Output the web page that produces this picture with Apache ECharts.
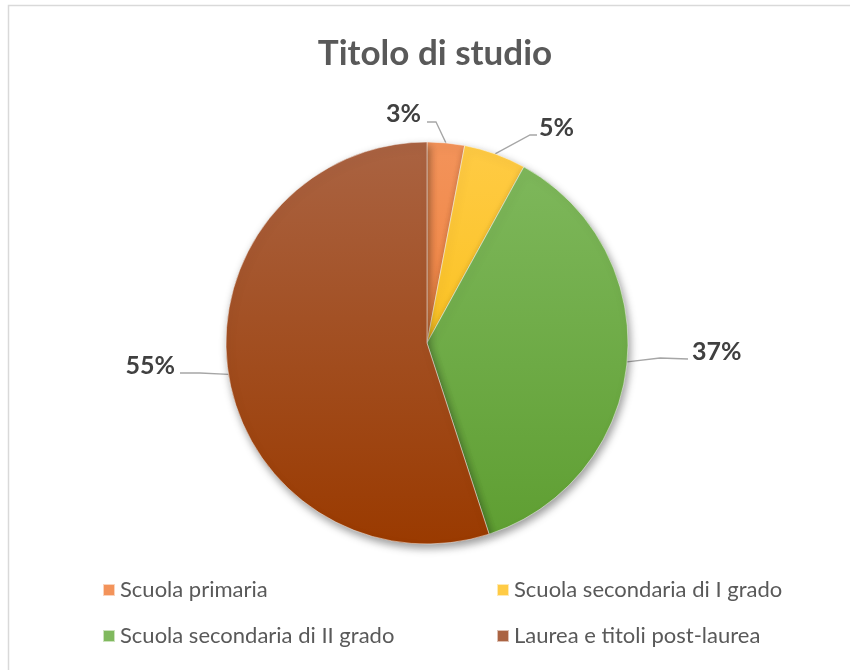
<!DOCTYPE html>
<html><head><meta charset="utf-8">
<script src="https://cdn.jsdelivr.net/npm/echarts@6/dist/echarts.min.js"></script>
<style>html,body{margin:0;padding:0;background:#fff}#c{width:850px;height:670px}</style>
</head><body><div id="c"></div>
<script>
const titleText = "Titolo di studio";
const categories = ["Scuola primaria", "Scuola secondaria di I grado", "Scuola secondaria di II grado", "Laurea e titoli post-laurea"];
const values = [3, 5, 37, 55];
const labelTexts = ["3%", "5%", "37%", "55%"];

// styling
const topColors = ["#F3935A", "#FFCB45", "#80B95E", "#AA6342"];
const botColors = ["#EC7529", "#F6BA00", "#5E9E31", "#9A3A00"];
const PIE_TOP = 142, PIE_BOT = 544;
function grad(i, global) {
  if (global) return new echarts.graphic.LinearGradient(0, PIE_TOP, 0, PIE_BOT, [{offset:0,color:topColors[i]},{offset:1,color:botColors[i]}], true);
  return new echarts.graphic.LinearGradient(0, 0, 0, 1, [{offset:0,color:topColors[i]},{offset:1,color:botColors[i]}]);
}
// label placement (layout only)
const labelLayoutCfg = [
  {x: 421, y: 114, align: 'right', pts: [[436, 122], [427, 122]]},
  {x: 539, y: 128, align: 'left', pts: [[530, 135], [537, 135]]},
  {x: 692, y: 352, align: 'left', pts: [[660, 358], [688, 359]]},
  {x: 175, y: 366, align: 'right', pts: [[200, 373], [180, 373]]}
];

const chart = echarts.init(document.getElementById('c'), null, {renderer: 'canvas'});
const legendText = {color: '#595959', fontSize: 22, fontFamily: 'Lato', lineHeight: 22};
chart.setOption({
  animation: false,
  title: {text: titleText, left: 430, textAlign: 'center', top: 31,
    textStyle: {fontFamily: 'Lato', fontWeight: 'bold', fontSize: 35, color: '#595959'}},
  graphic: [{type: 'rect', shape: {x: 8.5, y: 5.5, width: 900, height: 700},
    style: {fill: 'none', stroke: '#D9D9D9', lineWidth: 1.5}, silent: true, z: -1}],
  legend: [
    {orient: 'vertical', left: 97, top: 574, itemWidth: 12, itemHeight: 12, itemGap: 24, icon: 'rect',
      data: [categories[0], categories[2]], textStyle: legendText},
    {orient: 'vertical', left: 491, top: 574, itemWidth: 12, itemHeight: 12, itemGap: 24, icon: 'rect',
      data: [categories[1], categories[3]], textStyle: legendText}
  ],
  series: [{
    type: 'pie', center: [427, 343], radius: 201, startAngle: 90, clockwise: true,
    data: categories.map((c, i) => ({name: c, value: values[i],
      itemStyle: {color: grad(i, true)}, })),
    itemStyle: {borderColor: 'rgba(255,255,255,0.6)', borderWidth: 0.8,
      shadowBlur: 9, shadowColor: 'rgba(0,0,0,0.4)', shadowOffsetX: 2, shadowOffsetY: 4},
    label: {show: true, formatter: p => labelTexts[p.dataIndex], fontFamily: 'Lato', fontWeight: 'bold',
      fontSize: 25, color: '#404040'},
    labelLine: {show: true, length: 20, length2: 10, smooth: false,
      lineStyle: {color: '#A6A6A6', width: 1.3}},
    labelLayout: function (params) {
      const cfg = labelLayoutCfg[params.dataIndex];
      const p0 = params.labelLinePoints ? params.labelLinePoints[0] : cfg.pts[0];
      return {x: cfg.x, y: cfg.y, align: cfg.align, verticalAlign: 'middle',
        labelLinePoints: [p0, cfg.pts[0], cfg.pts[1]]};
    },
    emphasis: {disabled: true}
  }]
});
</script></body></html>
